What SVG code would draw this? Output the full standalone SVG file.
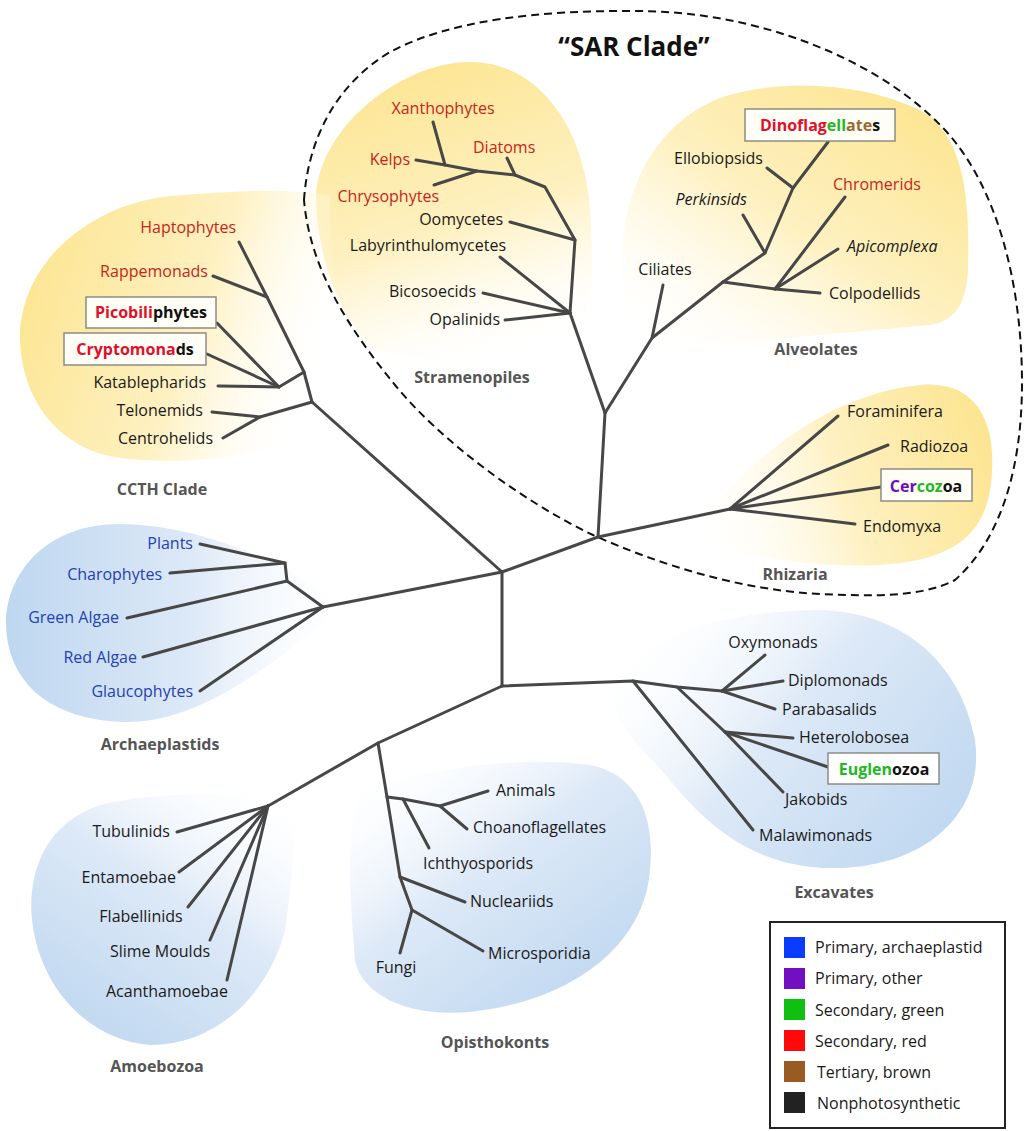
<svg xmlns="http://www.w3.org/2000/svg" width="1024" height="1131" viewBox="0 0 1024 1131">
<style>
.br{fill:none;stroke:#474747;stroke-width:3;stroke-linecap:round;stroke-linejoin:round}
text{font-family:"Open Sans","Liberation Sans",sans-serif;font-size:16px;fill:#1a1a1a}
.red{fill:#c4261d}
.blue{fill:#2541b2}
.e{text-anchor:end}
.m{text-anchor:middle}
.i{font-style:italic}
.grp{font-weight:bold;fill:#555;text-anchor:middle}
.bt{font-weight:bold}
.box{fill:#fffef6;stroke:#8c8c84;stroke-width:1.5}
.cr{fill:#e0102a}.cg{fill:#22b822}.cb{fill:#9a6a30}.cp{fill:#6a0dbd}.ck{fill:#111}
.leg{fill:#fff;stroke:#222;stroke-width:2}
.y0{stop-color:#fce592}.y1{stop-color:#fef1c2}.y2{stop-color:#fffdf5;stop-opacity:0}
.b0{stop-color:#bed7f0}.b1{stop-color:#dde9f7}.b2{stop-color:#f8fbfe;stop-opacity:0}
</style>
<defs>
<linearGradient id="gStr" x1="0.35" y1="0" x2="0.65" y2="1"><stop offset="0" class="y0"/><stop offset="0.55" class="y1"/><stop offset="1" class="y2"/></linearGradient>
<linearGradient id="gAlv" x1="0.9" y1="0.1" x2="0.1" y2="1"><stop offset="0" class="y0"/><stop offset="0.5" class="y1"/><stop offset="1" class="y2"/></linearGradient>
<linearGradient id="gCC" x1="0" y1="0.35" x2="1" y2="0.65"><stop offset="0" class="y0"/><stop offset="0.55" class="y1"/><stop offset="0.95" class="y2"/></linearGradient>
<linearGradient id="gRh" x1="1" y1="0.4" x2="0" y2="0.6"><stop offset="0" class="y0"/><stop offset="0.5" class="y1"/><stop offset="1" class="y2"/></linearGradient>
<linearGradient id="gAr" x1="0" y1="0.5" x2="1" y2="0.5"><stop offset="0" class="b0"/><stop offset="0.55" class="b1"/><stop offset="1" class="b2"/></linearGradient>
<linearGradient id="gEx" x1="1" y1="0.8" x2="0" y2="0.2"><stop offset="0" class="b0"/><stop offset="0.55" class="b1"/><stop offset="1" class="b2"/></linearGradient>
<linearGradient id="gAm" x1="0.2" y1="1" x2="0.9" y2="0"><stop offset="0" class="b0"/><stop offset="0.55" class="b1"/><stop offset="1" class="b2"/></linearGradient>
<linearGradient id="gOp" x1="0.9" y1="0.9" x2="0.1" y2="0"><stop offset="0" class="b0"/><stop offset="0.55" class="b1"/><stop offset="1" class="b2"/></linearGradient>
</defs>
<rect width="1024" height="1131" fill="#fff"/>
<g id="clade-backgrounds">
<path d="M470 62 C540 62 585 130 590 210 C595 280 590 340 580 360 C520 368 420 362 375 350 C340 320 318 260 316 200 C316 130 400 62 470 62 Z" fill="url(#gStr)"/>
<path d="M625 300 C612 220 640 130 720 98 C780 78 860 82 920 110 C965 135 970 200 968 270 C966 310 950 322 930 325 C850 332 720 345 650 350 C630 345 627 320 625 300 Z" fill="url(#gAlv)"/>
<path d="M20 330 C25 260 90 205 170 196 C240 190 300 188 330 196 L335 420 C300 450 200 468 120 458 C60 450 18 400 20 330 Z" fill="url(#gCC)"/>
<path d="M688 533 C740 470 820 395 920 385 C975 380 995 420 992 470 C990 530 960 560 880 565 C800 568 730 555 688 533 Z" fill="url(#gRh)"/>
<path d="M345 605 C280 560 200 525 120 524 C40 524 5 580 6 625 C8 690 60 722 130 722 C210 720 290 650 345 605 Z" fill="url(#gAr)"/>
<path d="M615 690 C630 640 720 610 820 610 C900 612 960 660 975 740 C985 810 930 865 840 868 C760 870 710 830 670 780 C640 745 608 720 615 690 Z" fill="url(#gEx)"/>
<path d="M297 790 C240 795 160 790 100 805 C40 825 28 880 32 920 C40 990 90 1040 150 1045 C220 1045 270 990 285 930 C292 880 296 830 297 790 Z" fill="url(#gAm)"/>
<path d="M360 790 C420 770 520 755 590 765 C640 775 655 820 650 870 C645 940 580 1000 470 1012 C400 1018 360 990 355 960 C350 900 345 830 360 790 Z" fill="url(#gOp)"/>
</g>
<g id="sar-clade-outline">
<path d="M304 200 C308 140 335 85 390 52 C450 20 540 10 640 11 C760 12 880 60 945 130 C1000 190 1022 290 1022 383 C1022 470 1000 540 955 580 C920 598 870 596 820 594 C740 590 660 565 593 535 C520 500 440 440 395 385 C350 330 310 270 304 200 Z" fill="none" stroke="#111" stroke-width="2" stroke-dasharray="8 5"/>
<text x="634" y="56" class="m" style="font-weight:bold;font-size:26px;fill:#111">“SAR Clade”</text>
</g>
<g id="connectors" class="br">
<polyline points="502,572 502,686"/>
<polyline points="502,572 312,402"/>
<polyline points="502,572 323,607"/>
<polyline points="502,572 598,537 605,413"/>
<polyline points="598,537 730,509"/>
<polyline points="605,413 570,313"/>
<polyline points="605,413 652,338 723,282"/>
<polyline points="502,686 633,681 677,687 722,691"/>
<polyline points="502,686 378,743 268,806"/>
<polyline points="378,743 387,797 400,877 412,910"/>
<polyline points="570,313 575,240 545,187 515,175 477,171 445,165 416,160"/>
<polyline points="570,313 505,320"/>
<polyline points="570,313 483,293"/>
<polyline points="570,313 500,257"/>
<polyline points="575,240 510,222"/>
<polyline points="515,175 507,158"/>
<polyline points="477,171 434,185"/>
<polyline points="445,165 433,122"/>
<polyline points="652,338 663,285"/>
<polyline points="723,282 775,289 820,293"/>
<polyline points="775,289 845,197"/>
<polyline points="775,289 838,249"/>
<polyline points="723,282 765,253 793,188 828,142"/>
<polyline points="765,253 743,215"/>
<polyline points="793,188 767,168"/>
<polyline points="312,402 260,417 212,412"/>
<polyline points="260,417 223,438"/>
<polyline points="312,402 304,372 267,297 239,242"/>
<polyline points="267,297 213,276"/>
<polyline points="304,372 279,387 218,386"/>
<polyline points="279,387 207,354"/>
<polyline points="279,387 217,323"/>
<polyline points="730,509 838,416"/>
<polyline points="730,509 888,445"/>
<polyline points="730,509 881,487"/>
<polyline points="730,509 855,524"/>
<polyline points="323,607 287,581 285,563 200,544"/>
<polyline points="285,563 170,573"/>
<polyline points="287,581 127,618"/>
<polyline points="323,607 143,657"/>
<polyline points="323,607 200,691"/>
<polyline points="722,691 765,655"/>
<polyline points="722,691 783,681"/>
<polyline points="722,691 775,709"/>
<polyline points="677,687 725,732 783,792"/>
<polyline points="725,732 793,738"/>
<polyline points="725,732 828,767"/>
<polyline points="633,681 753,830"/>
<polyline points="268,806 177,832"/>
<polyline points="268,806 179,872"/>
<polyline points="268,806 188,907"/>
<polyline points="268,806 210,940"/>
<polyline points="268,806 227,980"/>
<polyline points="387,797 403,799 440,806 488,791"/>
<polyline points="440,806 467,829"/>
<polyline points="403,799 429,848"/>
<polyline points="400,877 465,902"/>
<polyline points="412,910 483,951"/>
<polyline points="412,910 400,953"/>
</g>
<g id="stramenopiles">
<text x="472" y="383" class="grp">Stramenopiles</text>
<g id="xanthophytes"><text x="443" y="114" class="m red">Xanthophytes</text></g>
<g id="diatoms"><text x="473" y="153" class="red">Diatoms</text></g>
<g id="kelps"><text x="410" y="165" class="e red">Kelps</text></g>
<g id="chrysophytes"><text x="439" y="202" class="e red">Chrysophytes</text></g>
<g id="oomycetes"><text x="503" y="225" class="e">Oomycetes</text></g>
<g id="labyrinthulomycetes"><text x="506" y="251" class="e">Labyrinthulomycetes</text></g>
<g id="bicosoecids"><text x="476" y="297" class="e">Bicosoecids</text></g>
<g id="opalinids"><text x="500" y="325" class="e">Opalinids</text></g>
</g>
<g id="alveolates">
<text x="816" y="355" class="grp">Alveolates</text>
<g id="dinoflagellates"><rect x="745" y="109" width="150" height="32" class="box"/><text x="820" y="131" class="m bt"><tspan class="cr">Dinoflag</tspan><tspan class="cg">ell</tspan><tspan class="cb">ate</tspan><tspan class="ck">s</tspan></text></g>
<g id="ellobiopsids"><text x="763" y="164" class="e">Ellobiopsids</text></g>
<g id="perkinsids"><text x="747" y="205" class="e i">Perkinsids</text></g>
<g id="chromerids"><text x="833" y="190" class="red">Chromerids</text></g>
<g id="apicomplexa"><text x="847" y="252" class="i">Apicomplexa</text></g>
<g id="ciliates"><text x="665" y="275" class="m">Ciliates</text></g>
<g id="colpodellids"><text x="829" y="299">Colpodellids</text></g>
</g>
<g id="ccth-clade">
<text x="162" y="495" class="grp">CCTH Clade</text>
<g id="haptophytes"><text x="236" y="233" class="e red">Haptophytes</text></g>
<g id="rappemonads"><text x="208" y="277" class="e red">Rappemonads</text></g>
<g id="picobiliphytes"><rect x="86" y="297" width="130" height="31" class="box"/><text x="151" y="318" class="m bt"><tspan class="cr">Picobili</tspan><tspan class="ck">phytes</tspan></text></g>
<g id="cryptomonads"><rect x="64" y="333" width="142" height="32" class="box"/><text x="135" y="355" class="m bt"><tspan class="cr">Cryptomona</tspan><tspan class="ck">ds</tspan></text></g>
<g id="katablepharids"><text x="206" y="388" class="e">Katablepharids</text></g>
<g id="telonemids"><text x="203" y="416" class="e">Telonemids</text></g>
<g id="centrohelids"><text x="213" y="444" class="e">Centrohelids</text></g>
</g>
<g id="rhizaria">
<text x="795" y="580" class="grp">Rhizaria</text>
<g id="foraminifera"><text x="847" y="417">Foraminifera</text></g>
<g id="radiozoa"><text x="900" y="452">Radiozoa</text></g>
<g id="cercozoa"><rect x="881" y="469" width="91" height="32" class="box"/><text x="926" y="492" class="m bt"><tspan class="cp">Cer</tspan><tspan class="cg">coz</tspan><tspan class="ck">oa</tspan></text></g>
<g id="endomyxa"><text x="863" y="532">Endomyxa</text></g>
</g>
<g id="archaeplastids">
<text x="160" y="750" class="grp">Archaeplastids</text>
<g id="plants"><text x="193" y="549" class="e blue">Plants</text></g>
<g id="charophytes"><text x="162" y="580" class="e blue">Charophytes</text></g>
<g id="green-algae"><text x="119" y="623" class="e blue">Green Algae</text></g>
<g id="red-algae"><text x="137" y="663" class="e blue">Red Algae</text></g>
<g id="glaucophytes"><text x="193" y="697" class="e blue">Glaucophytes</text></g>
</g>
<g id="excavates">
<text x="834" y="898" class="grp">Excavates</text>
<g id="oxymonads"><text x="773" y="648" class="m">Oxymonads</text></g>
<g id="diplomonads"><text x="788" y="686">Diplomonads</text></g>
<g id="parabasalids"><text x="782" y="715">Parabasalids</text></g>
<g id="heterolobosea"><text x="799" y="743">Heterolobosea</text></g>
<g id="euglenozoa"><rect x="828" y="753" width="111" height="31" class="box" style="fill:#fff"/><text x="884" y="775" class="m bt"><tspan class="cg">Euglen</tspan><tspan class="ck">ozoa</tspan></text></g>
<g id="jakobids"><text x="785" y="805">Jakobids</text></g>
<g id="malawimonads"><text x="759" y="841">Malawimonads</text></g>
</g>
<g id="amoebozoa">
<text x="157" y="1072" class="grp">Amoebozoa</text>
<g id="tubulinids"><text x="170" y="837" class="e">Tubulinids</text></g>
<g id="entamoebae"><text x="176" y="883" class="e">Entamoebae</text></g>
<g id="flabellinids"><text x="141" y="922" class="m">Flabellinids</text></g>
<g id="slime-moulds"><text x="160" y="957" class="m">Slime Moulds</text></g>
<g id="acanthamoebae"><text x="167" y="997" class="m">Acanthamoebae</text></g>
</g>
<g id="opisthokonts">
<text x="495" y="1048" class="grp">Opisthokonts</text>
<g id="animals"><text x="496" y="796">Animals</text></g>
<g id="choanoflagellates"><text x="473" y="833">Choanoflagellates</text></g>
<g id="ichthyosporids"><text x="478" y="869" class="m">Ichthyosporids</text></g>
<g id="nucleariids"><text x="470" y="907">Nucleariids</text></g>
<g id="microsporidia"><text x="488" y="959">Microsporidia</text></g>
<g id="fungi"><text x="396" y="973" class="m">Fungi</text></g>
</g>
<g id="legend">
<rect x="770" y="922" width="235" height="206" class="leg"/>
<rect x="784" y="937" width="21" height="21" fill="#0a3cff"/>
<rect x="784" y="968" width="21" height="21" fill="#7010c0"/>
<rect x="784" y="999" width="21" height="21" fill="#10c010"/>
<rect x="784" y="1030" width="21" height="21" fill="#ff0a0a"/>
<rect x="784" y="1061" width="21" height="21" fill="#9a5b22"/>
<rect x="784" y="1092" width="21" height="21" fill="#222"/>
<text x="815" y="953">Primary, archaeplastid</text>
<text x="815" y="984">Primary, other</text>
<text x="815" y="1016">Secondary, green</text>
<text x="815" y="1047">Secondary, red</text>
<text x="817" y="1078">Tertiary, brown</text>
<text x="817" y="1109">Nonphotosynthetic</text>
</g>
</svg>
